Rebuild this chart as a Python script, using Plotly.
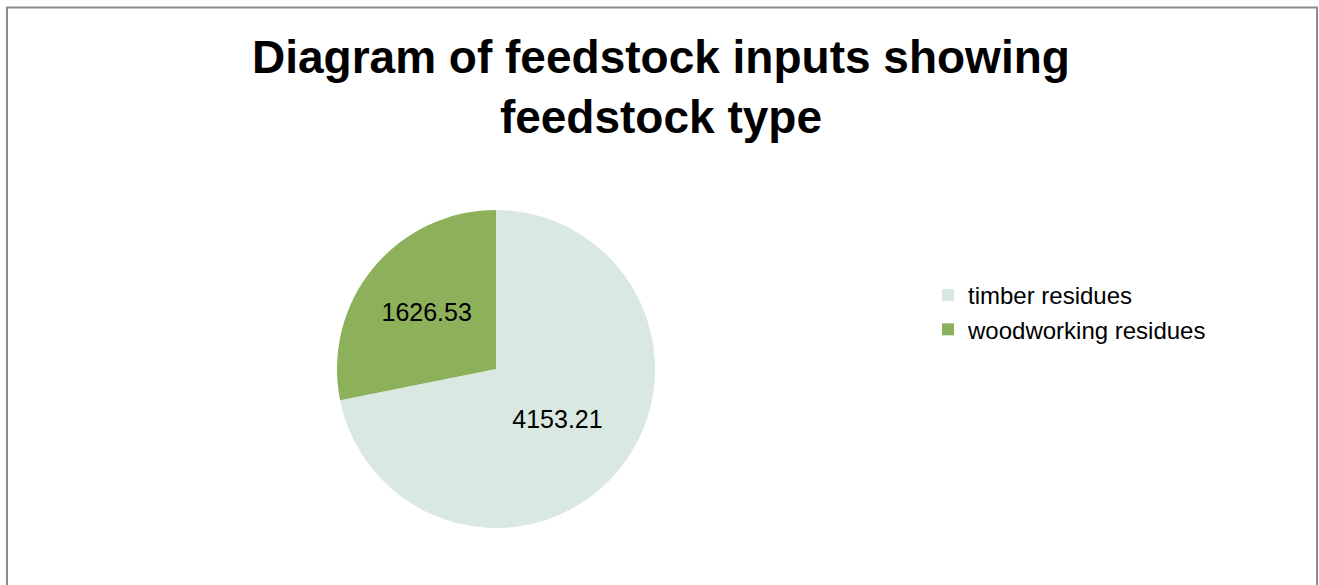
import plotly.graph_objects as go

categories = ["timber residues", "woodworking residues"]
values = [4153.21, 1626.53]
colors = ["#D9E8E0", "#8DB05A"]
title_lines = ["Diagram of feedstock inputs showing", "feedstock type"]

W, H = 1319, 585
cx, cy, r = 496, 369, 159

fig = go.Figure(go.Pie(
    labels=categories,
    values=values,
    sort=False,
    direction="clockwise",
    rotation=0,
    marker=dict(colors=colors, line=dict(width=0)),
    textinfo="value",
    texttemplate="%{value:.2f}",
    textposition="inside",
    insidetextorientation="horizontal",
    textfont=dict(family="Arial, Liberation Sans", size=25, color="black"),
    domain=dict(x=[(cx - r) / W, (cx + r) / W], y=[1 - (cy + r) / H, 1 - (cy - r) / H]),
    hoverinfo="label+value+percent",
))

fig.update_layout(
    width=W, height=H,
    margin=dict(l=0, r=0, t=0, b=0),
    paper_bgcolor="white",
    plot_bgcolor="white",
    font=dict(family="Arial, Liberation Sans", color="black"),
    legend=dict(
        x=928 / W, y=1 - 273 / H, xanchor="left", yanchor="top",
        font=dict(size=24, color="black", family="Arial, Liberation Sans"),
        itemwidth=30,
        bgcolor="rgba(0,0,0,0)",
    ),
    annotations=[dict(
        text="<b>" + "<br>".join(title_lines) + "</b>",
        xref="paper", yref="paper",
        x=661 / W, y=1 - 29 / H, xanchor="center", yanchor="top",
        showarrow=False, align="center",
        font=dict(size=46, color="black", family="Arial, Liberation Sans"),
    )],
    shapes=[dict(
        type="rect", xref="paper", yref="paper",
        x0=7 / W, x1=1317 / W, y0=-0.05, y1=1 - 7.5 / H,
        line=dict(color="#8c8c8c", width=2),
        fillcolor="rgba(0,0,0,0)",
    )],
)

fig.write_html(
    "out.html",
    config={"displayModeBar": False},
    post_script="document.body.style.margin='0';",
)
